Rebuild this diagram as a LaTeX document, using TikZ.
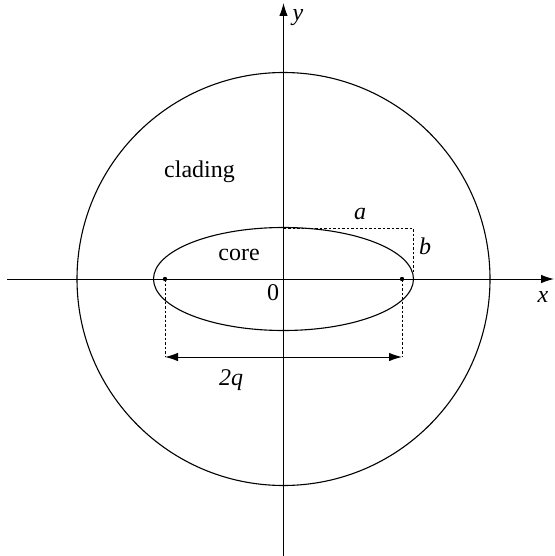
\documentclass[tikz,border=0pt]{standalone}
\usepackage{fontspec}
\setmainfont{Liberation Serif}
\usetikzlibrary{arrows.meta}
\begin{document}
\begin{tikzpicture}[x=1pt,y=-1pt,
  axis/.style={line width=1pt,-{Latex[length=13pt,width=8.5pt]}},
  curve/.style={line width=1.1pt},
  dots/.style={line width=0.9pt,dash pattern=on 2.5pt off 2pt},
  lbl/.style={font=\fontsize{24}{28}\selectfont,inner sep=0pt},
  mlbl/.style={font=\fontsize{24}{28}\selectfont\itshape,inner sep=0pt}]
\useasboundingbox (0,0) rectangle (554,556);
% key points
\coordinate (O) at (283.5,279);
\coordinate (xl) at (7,279);
\coordinate (xr) at (554,279);
\coordinate (yb) at (283.5,556);
\coordinate (yt) at (283.5,3);
\coordinate (F1) at (165,279);
\coordinate (F2) at (402,279);
\coordinate (D1) at (165,357);
\coordinate (D2) at (402,357);
\coordinate (T) at (283.5,228);
\coordinate (C) at (413,228);
\coordinate (Cb) at (413,272);
% axes
\draw[axis] (xl) -- (xr);
\draw[axis] (yb) -- (yt);
% cladding and core
\draw[curve] (O) circle[radius=206.5pt];
\draw[curve] (O) ellipse[x radius=130pt, y radius=51.5pt];
% semi-axes
\draw[dots] (T) -- (C) -- (Cb);
% foci
\fill (F1) circle[radius=2.2pt];
\fill (F2) circle[radius=2.2pt];
\draw[dots] (F1) -- (D1);
\draw[dots] (F2) -- (D2);
\draw[line width=1pt,{Latex[length=13pt,width=8.5pt]}-{Latex[length=13pt,width=8.5pt]}] (D1) -- (D2);
% labels
\node[lbl] (clad) at (199.5,172) {clading};
\node[lbl] (corelbl) at (239,255) {core};
\node[lbl] (zero) at (273,293) {0};
\node[mlbl] (la) at (360,214) {a};
\node[mlbl] (lb) at (425,246) {b};
\node[mlbl] (lq) at (231,380) {2q};
\node[mlbl] (lx) at (543,297) {x};
\node[mlbl] (ly) at (298,18) {y};
\end{tikzpicture}
\end{document}
